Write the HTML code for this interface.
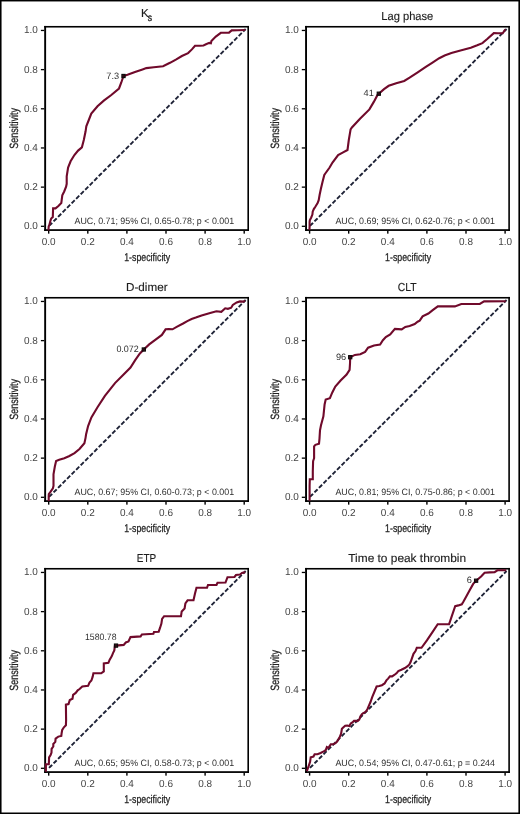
<!DOCTYPE html><html><head><meta charset="utf-8"><style>
html,body{margin:0;padding:0;background:#fff;}
svg{display:block;will-change:transform;}
text{font-family:"Liberation Sans", sans-serif;}
</style></head><body>
<svg width="520" height="814" viewBox="0 0 520 814" text-rendering="geometricPrecision">
<rect x="0" y="0" width="520" height="814" fill="#fff"/>
<rect x="0" y="0" width="1.55" height="814" fill="#000"/>
<rect x="518.4" y="0" width="1.6" height="814" fill="#000"/>
<rect x="0" y="0" width="520" height="1.45" fill="#000"/>
<rect x="0" y="812.5" width="520" height="1.5" fill="#000"/>
<g fill="#000">
<rect x="44.2" y="25.95" width="1.9" height="205"/>
<rect x="44.2" y="25.95" width="204.8" height="1.6"/>
<rect x="247.4" y="25.95" width="1.6" height="205"/>
<rect x="44.2" y="229.2" width="204.8" height="1.75"/>
<rect x="40.9" y="225.65" width="3.3" height="1.3"/>
<rect x="48" y="230.95" width="1.4" height="2.7"/>
<rect x="40.9" y="186.48" width="3.3" height="1.3"/>
<rect x="87.1" y="230.95" width="1.4" height="2.7"/>
<rect x="40.9" y="147.31" width="3.3" height="1.3"/>
<rect x="126.2" y="230.95" width="1.4" height="2.7"/>
<rect x="40.9" y="108.14" width="3.3" height="1.3"/>
<rect x="165.3" y="230.95" width="1.4" height="2.7"/>
<rect x="40.9" y="68.97" width="3.3" height="1.3"/>
<rect x="204.4" y="230.95" width="1.4" height="2.7"/>
<rect x="40.9" y="29.8" width="3.3" height="1.3"/>
<rect x="243.5" y="230.95" width="1.4" height="2.7"/>
</g>
<g fill="#444" font-size="10.2">
<text x="37.9" y="229" text-anchor="end" textLength="13.9" lengthAdjust="spacingAndGlyphs">0.0</text>
<text x="48.7" y="245.4" text-anchor="middle" textLength="13.9" lengthAdjust="spacingAndGlyphs">0.0</text>
<text x="37.9" y="190" text-anchor="end" textLength="13.9" lengthAdjust="spacingAndGlyphs">0.2</text>
<text x="87.8" y="245.4" text-anchor="middle" textLength="13.9" lengthAdjust="spacingAndGlyphs">0.2</text>
<text x="37.9" y="151" text-anchor="end" textLength="13.9" lengthAdjust="spacingAndGlyphs">0.4</text>
<text x="126.9" y="245.4" text-anchor="middle" textLength="13.9" lengthAdjust="spacingAndGlyphs">0.4</text>
<text x="37.9" y="112" text-anchor="end" textLength="13.9" lengthAdjust="spacingAndGlyphs">0.6</text>
<text x="166" y="245.4" text-anchor="middle" textLength="13.9" lengthAdjust="spacingAndGlyphs">0.6</text>
<text x="37.9" y="73" text-anchor="end" textLength="13.9" lengthAdjust="spacingAndGlyphs">0.8</text>
<text x="205.1" y="245.4" text-anchor="middle" textLength="13.9" lengthAdjust="spacingAndGlyphs">0.8</text>
<text x="37.9" y="33" text-anchor="end" textLength="13.9" lengthAdjust="spacingAndGlyphs">1.0</text>
<text x="244.2" y="245.4" text-anchor="middle" textLength="13.9" lengthAdjust="spacingAndGlyphs">1.0</text>
</g>
<text x="147.2" y="261.1" text-anchor="middle" font-size="11.2" fill="#222" stroke="#222" stroke-width="0.25" textLength="46.0" lengthAdjust="spacingAndGlyphs">1-specificity</text>
<text transform="translate(18.2,128.38) rotate(-90)" x="0" y="0" text-anchor="middle" font-size="12.0" fill="#222" stroke="#222" stroke-width="0.25" textLength="40.6" lengthAdjust="spacingAndGlyphs">Sensitivity</text>
<text x="141.0" y="17.2" font-size="11.6" fill="#1e1e1e" stroke="#1e1e1e" stroke-width="0.15">K</text>
<text x="147.8" y="20.5" font-size="10.2" fill="#1e1e1e" stroke="#1e1e1e" stroke-width="0.35" textLength="4.3" lengthAdjust="spacingAndGlyphs">s</text>
<text x="74.5" y="224" font-size="9.2" fill="#2e2e2e" textLength="159.6" lengthAdjust="spacingAndGlyphs">AUC, 0.71; 95% CI, 0.65-0.78; p < 0.001</text>
<line x1="48.7" y1="226.3" x2="245" y2="29.65" stroke="#1e2236" stroke-width="1.9" stroke-dasharray="2.5 3.89" stroke-dashoffset="-1.45" stroke-linecap="square"/>
<path d="M48.5 229.3 L48.7 226.2 L49.3 225.2 L50.3 221.3 L51.2 218.5 L52.8 217 L53.1 208.4 L55.5 208.4 L58.4 206 L61.3 203.1 L61.8 199.2 L62.3 195.4 L64.2 191.5 L66.1 186.7 L66.7 183.8 L66.7 176.3 L68.1 167.5 L70.6 161.3 L74.4 155 L78.1 150.6 L81.9 147.3 L83.8 140 L85.6 131.3 L86.3 126.3 L88.8 120 L91.3 113.6 L97.5 106.3 L103.8 100.6 L111.3 95 L119 88.5 L121.3 82.5 L123.5 76 L127.5 74.8 L135 71.9 L142.5 69.4 L146.3 68.1 L153.8 67.3 L163.1 66.3 L170 62.8 L176.3 59.4 L181.9 56 L188.1 53.1 L191.9 49.4 L195 45.8 L200 45.7 L203.5 45.5 L206 44.3 L209.3 42.9 L210.9 43.2 L211.4 41 L215.8 36.6 L220.8 32.8 L224.6 32.8 L229 32.6 L231.7 30.4 L237.8 30.2 L244.2 30" fill="none" stroke="#700a2b" stroke-width="2.1" stroke-linejoin="miter" stroke-miterlimit="2" stroke-linecap="square"/>
<rect x="121.9" y="74.4" width="3.2" height="3.2" fill="#2a0610" fill-opacity="0.85" stroke="#0a0a0a" stroke-width="1.1"/>
<text x="119.1" y="78.8" text-anchor="end" font-size="9.2" fill="#2e2e2e">7.3</text>
<g fill="#000">
<rect x="305.1" y="25.95" width="1.9" height="205"/>
<rect x="305.1" y="25.95" width="204.8" height="1.6"/>
<rect x="508.3" y="25.95" width="1.6" height="205"/>
<rect x="305.1" y="229.2" width="204.8" height="1.75"/>
<rect x="301.8" y="225.65" width="3.3" height="1.3"/>
<rect x="308.9" y="230.95" width="1.4" height="2.7"/>
<rect x="301.8" y="186.48" width="3.3" height="1.3"/>
<rect x="348" y="230.95" width="1.4" height="2.7"/>
<rect x="301.8" y="147.31" width="3.3" height="1.3"/>
<rect x="387.1" y="230.95" width="1.4" height="2.7"/>
<rect x="301.8" y="108.14" width="3.3" height="1.3"/>
<rect x="426.2" y="230.95" width="1.4" height="2.7"/>
<rect x="301.8" y="68.97" width="3.3" height="1.3"/>
<rect x="465.3" y="230.95" width="1.4" height="2.7"/>
<rect x="301.8" y="29.8" width="3.3" height="1.3"/>
<rect x="504.4" y="230.95" width="1.4" height="2.7"/>
</g>
<g fill="#444" font-size="10.2">
<text x="298.8" y="229" text-anchor="end" textLength="13.9" lengthAdjust="spacingAndGlyphs">0.0</text>
<text x="309.6" y="245.4" text-anchor="middle" textLength="13.9" lengthAdjust="spacingAndGlyphs">0.0</text>
<text x="298.8" y="190" text-anchor="end" textLength="13.9" lengthAdjust="spacingAndGlyphs">0.2</text>
<text x="348.7" y="245.4" text-anchor="middle" textLength="13.9" lengthAdjust="spacingAndGlyphs">0.2</text>
<text x="298.8" y="151" text-anchor="end" textLength="13.9" lengthAdjust="spacingAndGlyphs">0.4</text>
<text x="387.8" y="245.4" text-anchor="middle" textLength="13.9" lengthAdjust="spacingAndGlyphs">0.4</text>
<text x="298.8" y="112" text-anchor="end" textLength="13.9" lengthAdjust="spacingAndGlyphs">0.6</text>
<text x="426.9" y="245.4" text-anchor="middle" textLength="13.9" lengthAdjust="spacingAndGlyphs">0.6</text>
<text x="298.8" y="73" text-anchor="end" textLength="13.9" lengthAdjust="spacingAndGlyphs">0.8</text>
<text x="466" y="245.4" text-anchor="middle" textLength="13.9" lengthAdjust="spacingAndGlyphs">0.8</text>
<text x="298.8" y="33" text-anchor="end" textLength="13.9" lengthAdjust="spacingAndGlyphs">1.0</text>
<text x="505.1" y="245.4" text-anchor="middle" textLength="13.9" lengthAdjust="spacingAndGlyphs">1.0</text>
</g>
<text x="408.1" y="261.1" text-anchor="middle" font-size="11.2" fill="#222" stroke="#222" stroke-width="0.25" textLength="46.0" lengthAdjust="spacingAndGlyphs">1-specificity</text>
<text transform="translate(279.1,128.38) rotate(-90)" x="0" y="0" text-anchor="middle" font-size="12.0" fill="#222" stroke="#222" stroke-width="0.25" textLength="40.6" lengthAdjust="spacingAndGlyphs">Sensitivity</text>
<text x="407.3" y="20.2" text-anchor="middle" font-size="11.6" fill="#1e1e1e" stroke="#1e1e1e" stroke-width="0.15" textLength="52" lengthAdjust="spacingAndGlyphs">Lag phase</text>
<text x="335.4" y="224" font-size="9.2" fill="#2e2e2e" textLength="159.6" lengthAdjust="spacingAndGlyphs">AUC, 0.69; 95% CI, 0.62-0.76; p < 0.001</text>
<line x1="309.6" y1="226.3" x2="505.9" y2="29.65" stroke="#1e2236" stroke-width="1.9" stroke-dasharray="2.5 3.89" stroke-dashoffset="-1.45" stroke-linecap="square"/>
<path d="M309.5 229 L309.6 226.2 L309.6 222.1 L309.8 220.4 L311.2 217.5 L312.4 214.6 L312.7 211.7 L313.8 209.1 L315.5 206.5 L317.6 203.1 L318.7 200.2 L319.6 195 L320.9 188.8 L322.5 181.9 L324.3 175 L325.3 173.5 L329.6 167.5 L332.5 162.5 L338.1 155 L343.1 152.3 L347.5 150 L348.8 140 L350.6 129.4 L351.9 127.5 L360 118.8 L369.4 109.4 L373.8 101.9 L377.5 95 L378.8 93.7 L384 89.1 L388.7 85.8 L396.2 83.3 L404.2 81 L409.6 77.7 L417.7 72.3 L425.8 66.9 L432.5 62.6 L439.2 58.2 L444.6 55.5 L451.4 53 L460.5 50.4 L470.8 47.8 L477.2 45.3 L482.4 43.1 L487.5 38.8 L493.8 33.1 L498 33.3 L502.7 33.3 L504.8 30.2" fill="none" stroke="#700a2b" stroke-width="2.1" stroke-linejoin="miter" stroke-miterlimit="2" stroke-linecap="square"/>
<rect x="377.2" y="92.1" width="3.2" height="3.2" fill="#2a0610" fill-opacity="0.85" stroke="#0a0a0a" stroke-width="1.1"/>
<text x="373.8" y="96.1" text-anchor="end" font-size="9.2" fill="#2e2e2e">41</text>
<g fill="#000">
<rect x="44.2" y="296.95" width="1.9" height="205"/>
<rect x="44.2" y="296.95" width="204.8" height="1.6"/>
<rect x="247.4" y="296.95" width="1.6" height="205"/>
<rect x="44.2" y="500.2" width="204.8" height="1.75"/>
<rect x="40.9" y="496.65" width="3.3" height="1.3"/>
<rect x="48" y="501.95" width="1.4" height="2.7"/>
<rect x="40.9" y="457.48" width="3.3" height="1.3"/>
<rect x="87.1" y="501.95" width="1.4" height="2.7"/>
<rect x="40.9" y="418.31" width="3.3" height="1.3"/>
<rect x="126.2" y="501.95" width="1.4" height="2.7"/>
<rect x="40.9" y="379.14" width="3.3" height="1.3"/>
<rect x="165.3" y="501.95" width="1.4" height="2.7"/>
<rect x="40.9" y="339.97" width="3.3" height="1.3"/>
<rect x="204.4" y="501.95" width="1.4" height="2.7"/>
<rect x="40.9" y="300.8" width="3.3" height="1.3"/>
<rect x="243.5" y="501.95" width="1.4" height="2.7"/>
</g>
<g fill="#444" font-size="10.2">
<text x="37.9" y="500" text-anchor="end" textLength="13.9" lengthAdjust="spacingAndGlyphs">0.0</text>
<text x="48.7" y="516.4" text-anchor="middle" textLength="13.9" lengthAdjust="spacingAndGlyphs">0.0</text>
<text x="37.9" y="461" text-anchor="end" textLength="13.9" lengthAdjust="spacingAndGlyphs">0.2</text>
<text x="87.8" y="516.4" text-anchor="middle" textLength="13.9" lengthAdjust="spacingAndGlyphs">0.2</text>
<text x="37.9" y="422" text-anchor="end" textLength="13.9" lengthAdjust="spacingAndGlyphs">0.4</text>
<text x="126.9" y="516.4" text-anchor="middle" textLength="13.9" lengthAdjust="spacingAndGlyphs">0.4</text>
<text x="37.9" y="383" text-anchor="end" textLength="13.9" lengthAdjust="spacingAndGlyphs">0.6</text>
<text x="166" y="516.4" text-anchor="middle" textLength="13.9" lengthAdjust="spacingAndGlyphs">0.6</text>
<text x="37.9" y="344" text-anchor="end" textLength="13.9" lengthAdjust="spacingAndGlyphs">0.8</text>
<text x="205.1" y="516.4" text-anchor="middle" textLength="13.9" lengthAdjust="spacingAndGlyphs">0.8</text>
<text x="37.9" y="304" text-anchor="end" textLength="13.9" lengthAdjust="spacingAndGlyphs">1.0</text>
<text x="244.2" y="516.4" text-anchor="middle" textLength="13.9" lengthAdjust="spacingAndGlyphs">1.0</text>
</g>
<text x="147.2" y="532.1" text-anchor="middle" font-size="11.2" fill="#222" stroke="#222" stroke-width="0.25" textLength="46.0" lengthAdjust="spacingAndGlyphs">1-specificity</text>
<text transform="translate(18.2,399.38) rotate(-90)" x="0" y="0" text-anchor="middle" font-size="12.0" fill="#222" stroke="#222" stroke-width="0.25" textLength="40.6" lengthAdjust="spacingAndGlyphs">Sensitivity</text>
<text x="146.8" y="291.2" text-anchor="middle" font-size="11.6" fill="#1e1e1e" stroke="#1e1e1e" stroke-width="0.15" textLength="41.5" lengthAdjust="spacingAndGlyphs">D-dimer</text>
<text x="74.5" y="495" font-size="9.2" fill="#2e2e2e" textLength="159.6" lengthAdjust="spacingAndGlyphs">AUC, 0.67; 95% CI, 0.60-0.73; p < 0.001</text>
<line x1="48.7" y1="497.3" x2="245" y2="300.65" stroke="#1e2236" stroke-width="1.9" stroke-dasharray="2.5 3.89" stroke-dashoffset="-1.45" stroke-linecap="square"/>
<path d="M48.7 500 L48.7 497.1 L48.8 494.1 L50.3 492.2 L52.9 488.4 L53.5 485.8 L53.5 474.4 L54.8 466.8 L56.1 461.1 L59.2 459.8 L64.3 458.2 L69.4 456 L74.5 453.1 L79.5 449 L84.4 443.3 L85.6 437.6 L86.1 434.2 L88.1 426.1 L91.4 417.4 L97.5 407.3 L104.9 395.9 L115 383.1 L123.1 375 L130.5 367.6 L135.2 360.2 L139.9 353.5 L143.8 349.5 L149.2 344.4 L155.6 339.6 L161.9 334.9 L165.6 329.3 L168.8 329 L172.5 329.3 L176.7 326.9 L183.1 323.5 L187.3 321.1 L191.6 319 L195.8 317.6 L201.6 315.4 L209.3 313.2 L216.4 311.3 L221.3 311.8 L225.2 308.3 L227.9 308.8 L231.2 307.7 L232.8 305 L236.7 302.4 L240 301.4 L243.2 301.6 L244.2 301.2" fill="none" stroke="#700a2b" stroke-width="2.1" stroke-linejoin="miter" stroke-miterlimit="2" stroke-linecap="square"/>
<rect x="142.2" y="347.9" width="3.2" height="3.2" fill="#2a0610" fill-opacity="0.85" stroke="#0a0a0a" stroke-width="1.1"/>
<text x="138.8" y="352.3" text-anchor="end" font-size="9.2" fill="#2e2e2e" textLength="22.4" lengthAdjust="spacingAndGlyphs">0.072</text>
<g fill="#000">
<rect x="305.1" y="296.95" width="1.9" height="205"/>
<rect x="305.1" y="296.95" width="204.8" height="1.6"/>
<rect x="508.3" y="296.95" width="1.6" height="205"/>
<rect x="305.1" y="500.2" width="204.8" height="1.75"/>
<rect x="301.8" y="496.65" width="3.3" height="1.3"/>
<rect x="308.9" y="501.95" width="1.4" height="2.7"/>
<rect x="301.8" y="457.48" width="3.3" height="1.3"/>
<rect x="348" y="501.95" width="1.4" height="2.7"/>
<rect x="301.8" y="418.31" width="3.3" height="1.3"/>
<rect x="387.1" y="501.95" width="1.4" height="2.7"/>
<rect x="301.8" y="379.14" width="3.3" height="1.3"/>
<rect x="426.2" y="501.95" width="1.4" height="2.7"/>
<rect x="301.8" y="339.97" width="3.3" height="1.3"/>
<rect x="465.3" y="501.95" width="1.4" height="2.7"/>
<rect x="301.8" y="300.8" width="3.3" height="1.3"/>
<rect x="504.4" y="501.95" width="1.4" height="2.7"/>
</g>
<g fill="#444" font-size="10.2">
<text x="298.8" y="500" text-anchor="end" textLength="13.9" lengthAdjust="spacingAndGlyphs">0.0</text>
<text x="309.6" y="516.4" text-anchor="middle" textLength="13.9" lengthAdjust="spacingAndGlyphs">0.0</text>
<text x="298.8" y="461" text-anchor="end" textLength="13.9" lengthAdjust="spacingAndGlyphs">0.2</text>
<text x="348.7" y="516.4" text-anchor="middle" textLength="13.9" lengthAdjust="spacingAndGlyphs">0.2</text>
<text x="298.8" y="422" text-anchor="end" textLength="13.9" lengthAdjust="spacingAndGlyphs">0.4</text>
<text x="387.8" y="516.4" text-anchor="middle" textLength="13.9" lengthAdjust="spacingAndGlyphs">0.4</text>
<text x="298.8" y="383" text-anchor="end" textLength="13.9" lengthAdjust="spacingAndGlyphs">0.6</text>
<text x="426.9" y="516.4" text-anchor="middle" textLength="13.9" lengthAdjust="spacingAndGlyphs">0.6</text>
<text x="298.8" y="344" text-anchor="end" textLength="13.9" lengthAdjust="spacingAndGlyphs">0.8</text>
<text x="466" y="516.4" text-anchor="middle" textLength="13.9" lengthAdjust="spacingAndGlyphs">0.8</text>
<text x="298.8" y="304" text-anchor="end" textLength="13.9" lengthAdjust="spacingAndGlyphs">1.0</text>
<text x="505.1" y="516.4" text-anchor="middle" textLength="13.9" lengthAdjust="spacingAndGlyphs">1.0</text>
</g>
<text x="408.1" y="532.1" text-anchor="middle" font-size="11.2" fill="#222" stroke="#222" stroke-width="0.25" textLength="46.0" lengthAdjust="spacingAndGlyphs">1-specificity</text>
<text transform="translate(279.1,399.38) rotate(-90)" x="0" y="0" text-anchor="middle" font-size="12.0" fill="#222" stroke="#222" stroke-width="0.25" textLength="40.6" lengthAdjust="spacingAndGlyphs">Sensitivity</text>
<text x="407.2" y="291.1" text-anchor="middle" font-size="11.6" fill="#1e1e1e" stroke="#1e1e1e" stroke-width="0.15" textLength="18.8" lengthAdjust="spacingAndGlyphs">CLT</text>
<text x="335.4" y="495" font-size="9.2" fill="#2e2e2e" textLength="159.6" lengthAdjust="spacingAndGlyphs">AUC, 0.81; 95% CI, 0.75-0.86; p < 0.001</text>
<line x1="309.6" y1="497.3" x2="505.9" y2="300.65" stroke="#1e2236" stroke-width="1.9" stroke-dasharray="2.5 3.89" stroke-dashoffset="-1.45" stroke-linecap="square"/>
<path d="M309.6 499.8 L309.6 486 L309.8 479.3 L312.8 479.3 L312.8 471.6 L313.1 461.3 L314.1 458.2 L314.1 446.3 L315.4 444.8 L319 443.7 L319.5 438.6 L320 430.3 L321 425.2 L323.4 416.3 L324.6 404.4 L325.7 399.6 L329.9 398.2 L332.3 392.4 L335.3 386.5 L340.6 380.5 L346.6 374.6 L349.6 369.8 L350 363.8 L350.2 357.2 L354.9 354.9 L360.3 354.3 L365.1 351.9 L368.1 347.7 L374 345.4 L380.1 344.5 L382.9 340.2 L385.8 337 L390.2 334.4 L394.9 328.9 L398.1 329.1 L401.7 329.4 L405.3 326.9 L409.6 326 L414.7 324 L417.6 321.7 L419.7 320.7 L422.6 316.4 L428.4 313.5 L432.7 310.2 L437.8 306.4 L454.9 306.4 L461.3 304 L479.8 304 L484.1 301.4 L504.8 301.2" fill="none" stroke="#700a2b" stroke-width="2.1" stroke-linejoin="miter" stroke-miterlimit="2" stroke-linecap="square"/>
<rect x="348.6" y="355.6" width="3.2" height="3.2" fill="#2a0610" fill-opacity="0.85" stroke="#0a0a0a" stroke-width="1.1"/>
<text x="346.2" y="359.5" text-anchor="end" font-size="9.2" fill="#2e2e2e">96</text>
<g fill="#000">
<rect x="44.2" y="567.95" width="1.9" height="205"/>
<rect x="44.2" y="567.95" width="204.8" height="1.6"/>
<rect x="247.4" y="567.95" width="1.6" height="205"/>
<rect x="44.2" y="771.2" width="204.8" height="1.75"/>
<rect x="40.9" y="767.65" width="3.3" height="1.3"/>
<rect x="48" y="772.95" width="1.4" height="2.7"/>
<rect x="40.9" y="728.48" width="3.3" height="1.3"/>
<rect x="87.1" y="772.95" width="1.4" height="2.7"/>
<rect x="40.9" y="689.31" width="3.3" height="1.3"/>
<rect x="126.2" y="772.95" width="1.4" height="2.7"/>
<rect x="40.9" y="650.14" width="3.3" height="1.3"/>
<rect x="165.3" y="772.95" width="1.4" height="2.7"/>
<rect x="40.9" y="610.97" width="3.3" height="1.3"/>
<rect x="204.4" y="772.95" width="1.4" height="2.7"/>
<rect x="40.9" y="571.8" width="3.3" height="1.3"/>
<rect x="243.5" y="772.95" width="1.4" height="2.7"/>
</g>
<g fill="#444" font-size="10.2">
<text x="37.9" y="771" text-anchor="end" textLength="13.9" lengthAdjust="spacingAndGlyphs">0.0</text>
<text x="48.7" y="787.4" text-anchor="middle" textLength="13.9" lengthAdjust="spacingAndGlyphs">0.0</text>
<text x="37.9" y="732" text-anchor="end" textLength="13.9" lengthAdjust="spacingAndGlyphs">0.2</text>
<text x="87.8" y="787.4" text-anchor="middle" textLength="13.9" lengthAdjust="spacingAndGlyphs">0.2</text>
<text x="37.9" y="693" text-anchor="end" textLength="13.9" lengthAdjust="spacingAndGlyphs">0.4</text>
<text x="126.9" y="787.4" text-anchor="middle" textLength="13.9" lengthAdjust="spacingAndGlyphs">0.4</text>
<text x="37.9" y="654" text-anchor="end" textLength="13.9" lengthAdjust="spacingAndGlyphs">0.6</text>
<text x="166" y="787.4" text-anchor="middle" textLength="13.9" lengthAdjust="spacingAndGlyphs">0.6</text>
<text x="37.9" y="615" text-anchor="end" textLength="13.9" lengthAdjust="spacingAndGlyphs">0.8</text>
<text x="205.1" y="787.4" text-anchor="middle" textLength="13.9" lengthAdjust="spacingAndGlyphs">0.8</text>
<text x="37.9" y="575" text-anchor="end" textLength="13.9" lengthAdjust="spacingAndGlyphs">1.0</text>
<text x="244.2" y="787.4" text-anchor="middle" textLength="13.9" lengthAdjust="spacingAndGlyphs">1.0</text>
</g>
<text x="147.2" y="803.1" text-anchor="middle" font-size="11.2" fill="#222" stroke="#222" stroke-width="0.25" textLength="46.0" lengthAdjust="spacingAndGlyphs">1-specificity</text>
<text transform="translate(18.2,670.38) rotate(-90)" x="0" y="0" text-anchor="middle" font-size="12.0" fill="#222" stroke="#222" stroke-width="0.25" textLength="40.6" lengthAdjust="spacingAndGlyphs">Sensitivity</text>
<text x="146.5" y="562.1" text-anchor="middle" font-size="11.6" fill="#1e1e1e" stroke="#1e1e1e" stroke-width="0.15" textLength="19.4" lengthAdjust="spacingAndGlyphs">ETP</text>
<text x="74.5" y="766" font-size="9.2" fill="#2e2e2e" textLength="159.6" lengthAdjust="spacingAndGlyphs">AUC, 0.65; 95% CI, 0.58-0.73; p < 0.001</text>
<line x1="48.7" y1="768.3" x2="245" y2="571.65" stroke="#1e2236" stroke-width="1.9" stroke-dasharray="2.5 3.89" stroke-dashoffset="-1.45" stroke-linecap="square"/>
<path d="M45.9 770.6 L45.9 764.3 L48.8 764.3 L48.9 762.4 L49.1 757.4 L50.6 755 L51.5 752.5 L51.6 748.9 L53.3 746.5 L53.3 743.9 L55.3 741.9 L55.6 738.6 L58.3 736.6 L61.3 735.9 L61.6 733.3 L62.2 730 L63.9 727.3 L65.9 725.3 L66.1 720 L65.9 704.7 L68.5 704.1 L69.8 700.1 L72.5 698.8 L73.1 694.9 L75.7 692.9 L77.7 690.3 L79.6 689 L82.3 686.4 L88.1 685.8 L89.5 682.5 L91.4 680.5 L92.7 676.6 L93.4 673.3 L101.2 673.3 L103.8 671.4 L103.8 663.5 L108.4 662.9 L109.7 659.6 L111.7 656.3 L113 653.1 L114.3 650.5 L114.9 645.9 L116 645.6 L123.7 644.9 L125.8 642.5 L128.5 641.4 L130.5 637.1 L140.6 636.4 L141.9 634.4 L153.4 633.7 L154 631.9 L158.7 631.7 L160.1 627.7 L161.4 623.6 L162.1 618.9 L164.1 616.2 L181 616.2 L181.7 611.4 L184.6 608.4 L185.4 603.3 L187.6 600.3 L193.5 600.3 L195 593.6 L196.5 587.8 L207 587.8 L208 585 L216.5 585 L217.5 582.8 L225.5 582.5 L227.5 577.2 L234.5 577 L236 575 L240 574.5 L242 573 L244.2 572.4" fill="none" stroke="#700a2b" stroke-width="2.1" stroke-linejoin="miter" stroke-miterlimit="2" stroke-linecap="square"/>
<rect x="114.4" y="644" width="3.2" height="3.2" fill="#2a0610" fill-opacity="0.85" stroke="#0a0a0a" stroke-width="1.1"/>
<text x="116.6" y="640" text-anchor="end" font-size="9.2" fill="#2e2e2e" textLength="31.6" lengthAdjust="spacingAndGlyphs">1580.78</text>
<g fill="#000">
<rect x="305.1" y="567.95" width="1.9" height="205"/>
<rect x="305.1" y="567.95" width="204.8" height="1.6"/>
<rect x="508.3" y="567.95" width="1.6" height="205"/>
<rect x="305.1" y="771.2" width="204.8" height="1.75"/>
<rect x="301.8" y="767.65" width="3.3" height="1.3"/>
<rect x="308.9" y="772.95" width="1.4" height="2.7"/>
<rect x="301.8" y="728.48" width="3.3" height="1.3"/>
<rect x="348" y="772.95" width="1.4" height="2.7"/>
<rect x="301.8" y="689.31" width="3.3" height="1.3"/>
<rect x="387.1" y="772.95" width="1.4" height="2.7"/>
<rect x="301.8" y="650.14" width="3.3" height="1.3"/>
<rect x="426.2" y="772.95" width="1.4" height="2.7"/>
<rect x="301.8" y="610.97" width="3.3" height="1.3"/>
<rect x="465.3" y="772.95" width="1.4" height="2.7"/>
<rect x="301.8" y="571.8" width="3.3" height="1.3"/>
<rect x="504.4" y="772.95" width="1.4" height="2.7"/>
</g>
<g fill="#444" font-size="10.2">
<text x="298.8" y="771" text-anchor="end" textLength="13.9" lengthAdjust="spacingAndGlyphs">0.0</text>
<text x="309.6" y="787.4" text-anchor="middle" textLength="13.9" lengthAdjust="spacingAndGlyphs">0.0</text>
<text x="298.8" y="732" text-anchor="end" textLength="13.9" lengthAdjust="spacingAndGlyphs">0.2</text>
<text x="348.7" y="787.4" text-anchor="middle" textLength="13.9" lengthAdjust="spacingAndGlyphs">0.2</text>
<text x="298.8" y="693" text-anchor="end" textLength="13.9" lengthAdjust="spacingAndGlyphs">0.4</text>
<text x="387.8" y="787.4" text-anchor="middle" textLength="13.9" lengthAdjust="spacingAndGlyphs">0.4</text>
<text x="298.8" y="654" text-anchor="end" textLength="13.9" lengthAdjust="spacingAndGlyphs">0.6</text>
<text x="426.9" y="787.4" text-anchor="middle" textLength="13.9" lengthAdjust="spacingAndGlyphs">0.6</text>
<text x="298.8" y="615" text-anchor="end" textLength="13.9" lengthAdjust="spacingAndGlyphs">0.8</text>
<text x="466" y="787.4" text-anchor="middle" textLength="13.9" lengthAdjust="spacingAndGlyphs">0.8</text>
<text x="298.8" y="575" text-anchor="end" textLength="13.9" lengthAdjust="spacingAndGlyphs">1.0</text>
<text x="505.1" y="787.4" text-anchor="middle" textLength="13.9" lengthAdjust="spacingAndGlyphs">1.0</text>
</g>
<text x="408.1" y="803.1" text-anchor="middle" font-size="11.2" fill="#222" stroke="#222" stroke-width="0.25" textLength="46.0" lengthAdjust="spacingAndGlyphs">1-specificity</text>
<text transform="translate(279.1,670.38) rotate(-90)" x="0" y="0" text-anchor="middle" font-size="12.0" fill="#222" stroke="#222" stroke-width="0.25" textLength="40.6" lengthAdjust="spacingAndGlyphs">Sensitivity</text>
<text x="407.2" y="561.9" text-anchor="middle" font-size="11.6" fill="#1e1e1e" stroke="#1e1e1e" stroke-width="0.15" textLength="117.8" lengthAdjust="spacingAndGlyphs">Time to peak thrombin</text>
<text x="335.4" y="766" font-size="9.2" fill="#2e2e2e" textLength="159.6" lengthAdjust="spacingAndGlyphs">AUC, 0.54; 95% CI, 0.47-0.61; p = 0.244</text>
<line x1="309.6" y1="768.3" x2="505.9" y2="571.65" stroke="#1e2236" stroke-width="1.9" stroke-dasharray="2.5 3.89" stroke-dashoffset="-1.45" stroke-linecap="square"/>
<path d="M307.2 770.2 L308.9 765.3 L310.1 761.8 L310.7 757.3 L311.9 756.9 L313.5 756.5 L314.6 754.2 L317.4 754.3 L320.6 753 L323.7 751.4 L325.7 750.2 L326.9 747.1 L328.4 747.9 L330.8 744.3 L333.2 744.3 L335.5 743.1 L337.1 741.6 L338.3 739.6 L339.5 737.6 L341.1 733.7 L341.9 728.8 L343.2 727.5 L345.2 725.8 L347.2 725.5 L349.4 726.1 L350.7 723.5 L352.4 722.5 L354 720.9 L356 720.9 L357.6 721.2 L359.2 719.6 L360.5 716.3 L361.9 714.1 L363.2 713.1 L364.8 712.4 L366.1 711.4 L367.4 709.2 L368.7 706.2 L370.5 702 L372.2 697.2 L376.6 686.5 L379.3 686.1 L381.9 685.2 L384.6 683.5 L386.4 680.4 L388.1 678.6 L389.9 676.4 L392.1 676.4 L394.3 675 L396.5 673.3 L398.3 671.1 L401.4 669.7 L404.9 668 L407.6 666.2 L409.4 664.4 L410.7 661.8 L413.5 653.8 L415.5 651.1 L416.8 647.8 L421.5 647.8 L426.9 640.4 L432.3 632.3 L437.7 624.2 L449.1 624.2 L451.8 616.2 L455.2 606.1 L458.4 605.4 L461.8 604.3 L463.5 601.5 L466.4 596.3 L469.8 590.1 L473.2 583.9 L476.1 580.7 L481.1 576.5 L484.6 572.7 L489.8 572.4 L494.6 572.2 L497.4 570.3 L505.2 570.2" fill="none" stroke="#700a2b" stroke-width="2.1" stroke-linejoin="miter" stroke-miterlimit="2" stroke-linecap="square"/>
<rect x="474.5" y="579.1" width="3.2" height="3.2" fill="#2a0610" fill-opacity="0.85" stroke="#0a0a0a" stroke-width="1.1"/>
<text x="471.8" y="583.1" text-anchor="end" font-size="9.2" fill="#2e2e2e">6</text>
</svg></body></html>
